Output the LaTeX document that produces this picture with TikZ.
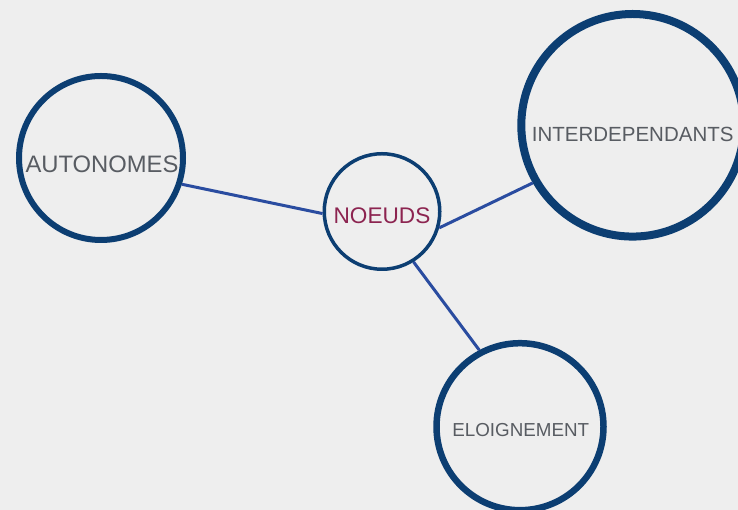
\documentclass[tikz,border=0pt]{standalone}
\usepackage{fontspec}
\setmainfont{Liberation Sans}
\definecolor{bgc}{RGB}{238,238,238}
\definecolor{ringc}{RGB}{12,62,114}
\definecolor{linkc}{RGB}{42,76,160}
\definecolor{txtc}{RGB}{88,92,98}
\definecolor{redc}{RGB}{140,36,80}
\begin{document}
\begin{tikzpicture}[x=1pt,y=1pt,
  ring/.style={circle,draw=ringc,inner sep=0pt},
  lbl/.style={inner sep=0pt,text=txtc},
  link/.style={draw=linkc,line width=3pt}]
\useasboundingbox (0,0) rectangle (738,510);
\fill[bgc] (0,0) rectangle (738,510);
\clip (0,0) rectangle (738,510);
\node[ring,line width=6pt,minimum size=164pt] (a) at (101,352) {};
\node[ring,line width=3.5pt,minimum size=115.5pt] (n) at (382,298.5) {};
\node[ring,line width=8pt,minimum size=222.6pt] (i) at (632.6,384.7) {};
\node[ring,line width=6.5pt,minimum size=167pt] (e) at (520,83.3) {};
\node[lbl,font=\fontsize{23.8}{26}\selectfont] (ta) at (102,346) {AUTONOMES};
\node[lbl,text=redc,font=\fontsize{22.6}{25}\selectfont] (tn) at (382,294.3) {NOEUDS};
\node[lbl,font=\fontsize{20.5}{23}\selectfont] (ti) at (632.7,376) {INTERDEPENDANTS};
\node[lbl,font=\fontsize{18.8}{21}\selectfont] (te) at (520.7,80) {ELOIGNEMENT};
\draw[link] (a.-18) -- (n.182);
\draw[link] (n.-16.6) -- (i.210);
\draw[link] (n.-58) -- (e.118.8);
\end{tikzpicture}
\end{document}
